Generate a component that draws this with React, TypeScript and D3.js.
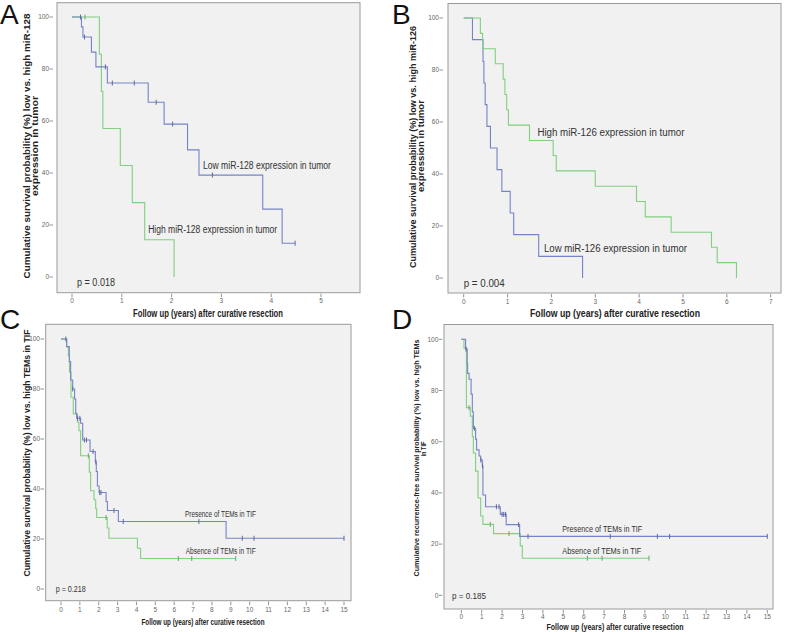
import React from 'react';
import * as d3 from 'd3';

// ---------- Data ----------
const yTicks = [0, 20, 40, 60, 80, 100];
const aXTicks = [0, 1, 2, 3, 4, 5];
const bXTicks = [0, 1, 2, 3, 4, 5, 6, 7];
const cdXTicks = [0, 1, 2, 3, 4, 5, 6, 7, 8, 9, 10, 11, 12, 13, 14, 15];

// Panel A
const aLowTimes = [0.19, 0.22, 0.39, 0.48, 0.71, 1.53, 1.85, 2.32, 2.55, 3.83, 4.22];
const aLowSurv = [96.2, 92.3, 86.5, 80.8, 74.6, 67.2, 58.8, 48.9, 39.2, 26.1, 13.0];
const aLowCens = [0.17, 0.25, 0.67, 0.81, 1.25, 1.69, 2.02, 2.82, 4.48];
const aLowEnd = 4.48;
const aHighTimes = [0.55, 0.59, 0.62, 0.97, 1.21, 1.46, 2.05];
const aHighSurv = [85.7, 71.4, 57.1, 42.9, 28.6, 14.3, 0];
const aHighCens = [0.26];
const aHighEnd = 2.05;

// Panel B
const bHighTimes = [0.38, 0.43, 0.72, 0.9, 0.94, 0.98, 1.02, 1.5, 2.04, 2.11, 3.0, 3.94, 4.14, 4.73, 5.65, 5.78, 6.22];
const bHighSurv = [94.1, 88.2, 82.4, 76.5, 70.6, 64.7, 58.8, 52.9, 47.1, 41.2, 35.3, 29.4, 23.5, 17.6, 11.8, 5.9, 0];
const bHighCens: number[] = [];
const bHighEnd = 6.22;
const bLowTimes = [0.2, 0.44, 0.46, 0.49, 0.53, 0.61, 0.76, 0.87, 1.06, 1.14, 1.71, 2.71];
const bLowSurv = [91.7, 83.3, 75.0, 66.7, 58.3, 50.0, 41.7, 33.3, 25.0, 16.7, 8.3, 0];
const bLowCens: number[] = [];
const bLowEnd = 2.71;

// Panel C
const cPresTimes = [0.3, 0.44, 0.51, 0.62, 0.72, 0.78, 0.83, 1.04, 1.15, 1.54, 1.82, 1.87, 1.93, 2.02, 2.39, 2.46, 3.04, 8.75];
const cPresSurv = [97.0, 91.0, 83.6, 80.0, 76.0, 70.3, 68.3, 66.3, 59.6, 55.0, 50.8, 47.0, 41.2, 38.6, 35.0, 31.4, 27.0, 20.3];
const cPresCens = [0.26, 0.62, 0.88, 1.0, 1.24, 1.35, 1.7, 1.85, 2.05, 2.12, 2.81, 3.3, 7.31, 9.61, 10.23, 15.0];
const cPresEnd = 15.0;
const cAbsTimes = [0.3, 0.39, 0.45, 0.53, 0.65, 0.87, 0.95, 1.04, 1.5, 1.57, 1.75, 1.84, 1.89, 2.45, 2.54, 4.05, 4.22];
const cAbsSurv = [96.7, 93.3, 86.7, 76.7, 70.0, 66.7, 63.3, 53.3, 46.7, 39.3, 35.7, 32.1, 28.6, 24.4, 20.3, 16.3, 12.2];
const cAbsCens = [1.45, 2.39, 6.22, 6.93, 9.26];
const cAbsEnd = 9.26;

// Panel D
const dPresTimes = [0.21, 0.29, 0.31, 0.38, 0.48, 0.54, 0.59, 0.7, 0.75, 0.87, 0.95, 1.03, 1.06, 1.19, 1.91, 2.2, 2.86];
const dPresSurv = [96.2, 90.6, 86.7, 84.4, 78.6, 71.7, 65.2, 61.0, 56.8, 54.4, 52.8, 50.6, 39.2, 34.6, 31.6, 27.6, 23.0];
const dPresCens = [0.23, 0.64, 0.96, 1.04, 1.72, 1.85, 2.0, 2.08, 2.17, 2.81, 3.27, 7.3, 9.61, 10.21, 15.0];
const dPresEnd = 15.0;
const dAbsTimes = [0.13, 0.25, 0.44, 0.54, 0.59, 0.7, 0.82, 0.95, 1.06, 1.58, 2.89, 2.99];
const dAbsSurv = [96.5, 73.3, 70.0, 62.0, 55.6, 48.5, 38.0, 31.0, 27.7, 24.1, 19.3, 14.5];
const dAbsCens = [0.38, 1.42, 2.34, 6.18, 6.9, 9.2];
const dAbsEnd = 9.2;

// ---------- Styles ----------
const BLUE = '#7683c6';
const GREEN = '#80d080';
const FONT = '"Liberation Sans", Arial, sans-serif';
const X_LABEL = 'Follow up (years) after curative resection';

type Series = { times: number[]; surv: number[]; cens: number[]; end: number; color: string };
type Note = { text: string; x: number; y: number; len: number };

interface Panel {
  letter: string; letterX: number; letterY: number;
  box: [number, number, number, number];
  xDomain: [number, number]; xRange: [number, number];
  yRange: [number, number];
  xTicks: number[];
  yGap: number; xTickTop: number; xLabelTickY: number;
  series: Series[];
  yLabel: string[]; yLabelX: number[]; yLabelLen: number[]; yLabelCY: number[]; yLabelSize: number;
  xLabelX: number; xLabelY: number; xLabelLen: number;
  p: string; pX: number; pY: number; pLen: number;
  notes: Note[]; noteSize: number; axisSize: number;
}

const panels: Panel[] = [
  {
    letter: 'A', letterX: 0, letterY: 24,
    box: [57, 2.7, 360, 292.7], xDomain: [0, 5], xRange: [72, 321], yRange: [277, 17],
    xTicks: aXTicks, yGap: 4, xTickTop: 293.7, xLabelTickY: 301,
    series: [
      { times: aHighTimes, surv: aHighSurv, cens: aHighCens, end: aHighEnd, color: GREEN },
      { times: aLowTimes, surv: aLowSurv, cens: aLowCens, end: aLowEnd, color: BLUE },
    ],
    yLabel: ['Cumulative survival probability (%) low vs. high miR-128', 'expression in tumor'],
    yLabelX: [26.5, 35], yLabelLen: [265, 100], yLabelCY: [146, 146], yLabelSize: 9,
    xLabelX: 208, xLabelY: 313, xLabelLen: 150,
    p: 'p = 0.018', pX: 77, pY: 282, pLen: 38,
    notes: [
      { text: 'Low miR-128 expression in tumor', x: 2.63, y: 42.8, len: 128 },
      { text: 'High miR-128 expression in tumor', x: 1.53, y: 18.1, len: 129 },
    ],
    noteSize: 10, axisSize: 10,
  },
  {
    letter: 'B', letterX: 392, letterY: 24,
    box: [448, 3.5, 781, 293], xDomain: [0, 7], xRange: [463.7, 770.7], yRange: [278, 18],
    xTicks: bXTicks, yGap: 5, xTickTop: 294, xLabelTickY: 301.5,
    series: [
      { times: bLowTimes, surv: bLowSurv, cens: bLowCens, end: bLowEnd, color: BLUE },
      { times: bHighTimes, surv: bHighSurv, cens: bHighCens, end: bHighEnd, color: GREEN },
    ],
    yLabel: ['Cumulative survival probability (%) low vs. high miR-126', 'expression in tumor'],
    yLabelX: [413.5, 421.5], yLabelLen: [242, 92], yLabelCY: [147, 146], yLabelSize: 8.5,
    xLabelX: 615, xLabelY: 313, xLabelLen: 170,
    p: 'p = 0.004', pX: 463.7, pY: 283, pLen: 41,
    notes: [
      { text: 'High miR-126 expression in tumor', x: 1.68, y: 55.9, len: 147 },
      { text: 'Low miR-126 expression in tumor', x: 1.83, y: 11.2, len: 143 },
    ],
    noteSize: 10, axisSize: 10,
  },
  {
    letter: 'C', letterX: 0, letterY: 329,
    box: [45.7, 324.3, 351, 600.7], xDomain: [0, 15], xRange: [61, 344], yRange: [589, 339],
    xTicks: cdXTicks, yGap: 1.7, xTickTop: 601.7, xLabelTickY: 610,
    series: [
      { times: cAbsTimes, surv: cAbsSurv, cens: cAbsCens, end: cAbsEnd, color: GREEN },
      { times: cPresTimes, surv: cPresSurv, cens: cPresCens, end: cPresEnd, color: BLUE },
    ],
    yLabel: ['Cumulative survival probability (%) low vs. high TEMs in TIF'],
    yLabelX: [26.7], yLabelLen: [247], yLabelCY: [453], yLabelSize: 8.5,
    xLabelX: 203, xLabelY: 621.7, xLabelLen: 123,
    p: 'p = 0.218', pX: 55.7, pY: 589, pLen: 30,
    notes: [
      { text: 'Presence of TEMs in TIF', x: 6.57, y: 29.9, len: 71 },
      { text: 'Absence of TEMs in TIF', x: 6.61, y: 15.3, len: 70 },
    ],
    noteSize: 8.5, axisSize: 8.5,
  },
  {
    letter: 'D', letterX: 392, letterY: 329,
    box: [444, 324.5, 773, 609], xDomain: [0, 15], xRange: [461.3, 767.3], yRange: [595.3, 339.3],
    xTicks: cdXTicks, yGap: 1.7, xTickTop: 610, xLabelTickY: 617,
    series: [
      { times: dAbsTimes, surv: dAbsSurv, cens: dAbsCens, end: dAbsEnd, color: GREEN },
      { times: dPresTimes, surv: dPresSurv, cens: dPresCens, end: dPresEnd, color: BLUE },
    ],
    yLabel: ['Cumulative recurrence-free survival probability (%) low vs. high TEMs', 'in TIF'],
    yLabelX: [416.5, 423.5], yLabelLen: [237, 15], yLabelCY: [458, 449], yLabelSize: 8,
    xLabelX: 615, xLabelY: 627, xLabelLen: 137,
    p: 'p = 0.185', pX: 452, pY: 596, pLen: 34,
    notes: [
      { text: 'Presence of TEMs in TIF', x: 4.95, y: 26, len: 80 },
      { text: 'Absence of TEMs in TIF', x: 4.95, y: 17.2, len: 79 },
    ],
    noteSize: 9, axisSize: 9,
  },
];

function survAt(s: Series, t: number): number {
  let v = 100;
  for (let i = 0; i < s.times.length; i++) if (s.times[i] <= t) v = s.surv[i];
  return v;
}

function PanelView({ p }: { p: Panel }) {
  const x = d3.scaleLinear().domain(p.xDomain).range(p.xRange);
  const y = d3.scaleLinear().domain([0, 100]).range(p.yRange);
  const [bx0, by0, bx1, by1] = p.box;
  const line = d3
    .line<[number, number]>()
    .x((d) => x(d[0]))
    .y((d) => y(d[1]))
    .curve(d3.curveStepAfter);

  return (
    <g>
      <text x={p.letterX} y={p.letterY} fontSize={28} fontFamily={FONT} fill="#111">
        {p.letter}
      </text>
      <rect x={bx0} y={by0} width={bx1 - bx0} height={by1 - by0} fill="#f1f1f1" stroke="#9a9a9a" strokeWidth={1} />
      {yTicks.map((t) => (
        <g key={'y' + t}>
          <line x1={bx0 - p.yGap - 3.5} x2={bx0 - p.yGap} y1={y(t)} y2={y(t)} stroke="#777" strokeWidth={0.8} />
          <text x={bx0 - p.yGap - 4} y={y(t)} dy="0.35em" textAnchor="end" fontSize={6.5} fontFamily={FONT} fill="#666">
            {t}
          </text>
        </g>
      ))}
      {p.xTicks.map((t) => (
        <g key={'x' + t}>
          <line x1={x(t)} x2={x(t)} y1={p.xTickTop} y2={p.xTickTop + 3.5} stroke="#777" strokeWidth={0.8} />
          <text x={x(t)} y={p.xLabelTickY} dy="0.35em" textAnchor="middle" fontSize={6.5} fontFamily={FONT} fill="#666">
            {t}
          </text>
        </g>
      ))}
      {p.series.map((s, i) => {
        const pts: [number, number][] = [[0, 100]];
        s.times.forEach((t, j) => pts.push([t, s.surv[j]]));
        const last = s.times.length ? s.times[s.times.length - 1] : 0;
        pts.push([Math.max(s.end, last), s.surv[s.surv.length - 1]]);
        return (
          <g key={'s' + i}>
            <path d={line(pts) || ''} fill="none" stroke={s.color} strokeWidth={1.1} />
            {s.cens.map((c, k) => (
              <line
                key={k}
                x1={x(c)}
                x2={x(c)}
                y1={y(survAt(s, c)) - 2.5}
                y2={y(survAt(s, c)) + 2.5}
                stroke={d3.color(s.color)!.darker(0.6).toString()}
                strokeWidth={1}
              />
            ))}
          </g>
        );
      })}
      {p.notes.map((n, i) => (
        <text
          key={'n' + i}
          x={x(n.x)}
          y={y(n.y)}
          dy="0.35em"
          fontSize={p.noteSize}
          fontFamily={FONT}
          fill="#333"
          textLength={n.len}
          lengthAdjust="spacingAndGlyphs"
        >
          {n.text}
        </text>
      ))}
      <text
        x={p.pX}
        y={p.pY}
        dy="0.35em"
        fontSize={p.noteSize}
        fontFamily={FONT}
        fill="#333"
        textLength={p.pLen}
        lengthAdjust="spacingAndGlyphs"
      >
        {p.p}
      </text>
      {p.yLabel.map((l, i) => (
        <text
          key={'yl' + i}
          transform={`translate(${p.yLabelX[i]},${p.yLabelCY[i]}) rotate(-90)`}
          dy="0.35em"
          textAnchor="middle"
          fontSize={p.yLabelSize}
          fontWeight="bold"
          fontFamily={FONT}
          fill="#222"
          textLength={p.yLabelLen[i]}
          lengthAdjust="spacingAndGlyphs"
        >
          {l}
        </text>
      ))}
      <text
        x={p.xLabelX}
        y={p.xLabelY}
        dy="0.35em"
        textAnchor="middle"
        fontSize={p.axisSize}
        fontWeight="bold"
        fontFamily={FONT}
        fill="#222"
        textLength={p.xLabelLen}
        lengthAdjust="spacingAndGlyphs"
      >
        {X_LABEL}
      </text>
    </g>
  );
}

export default function App() {
  return (
    <svg width={786} height={632} viewBox="0 0 786 632" style={{ position: 'absolute', left: 0, top: 0, background: '#fff' }}>
      <rect x={0} y={0} width={786} height={632} fill="#fff" />
      {panels.map((p) => (
        <PanelView key={p.letter} p={p} />
      ))}
    </svg>
  );
}
